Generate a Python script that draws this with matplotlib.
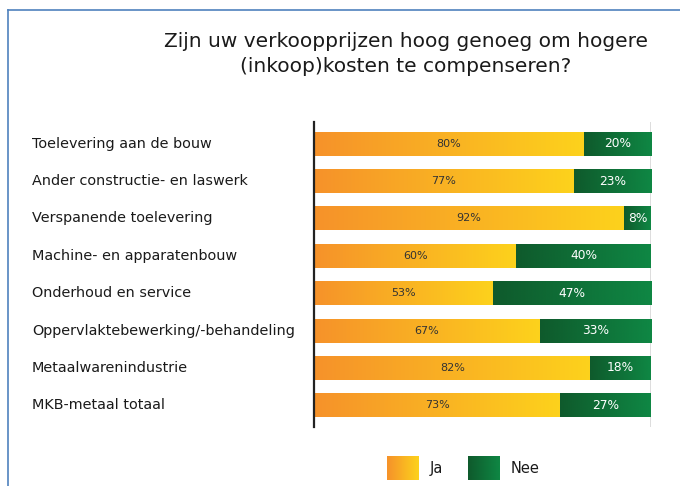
"""
Verkoopprijzen vs. hogere inkoopkosten — gestapelde balken met kleurverloop.
"""
import numpy as np
import matplotlib
matplotlib.use("Agg")
import matplotlib.pyplot as plt
from matplotlib.colors import LinearSegmentedColormap
from matplotlib.lines import Line2D

# ── Data ────────────────────────────────────────────────────────────
SECTORS = [
    "Toelevering aan de bouw",
    "Ander constructie- en laswerk",
    "Verspanende toelevering",
    "Machine- en apparatenbouw",
    "Onderhoud en service",
    "Oppervlaktebewerking/-behandeling",
    "Metaalwarenindustrie",
    "MKB-metaal totaal",
]
JA  = [80, 77, 92, 60, 53, 67, 82, 73]
NEE = [20, 23, 8, 40, 47, 33, 18, 27]

ORANGE = LinearSegmentedColormap.from_list("ja", ["#f6922a", "#fdd21c"])
GREEN  = LinearSegmentedColormap.from_list("nee", ["#0f5a2c", "#0f8744"])
GRAD = np.linspace(0, 1, 256).reshape(1, -1)


def grad_bar(ax, left, width, y, h, cmap):
    ax.imshow(GRAD, cmap=cmap, aspect="auto", interpolation="bicubic",
              extent=[left, left + width, y + h / 2, y - h / 2], zorder=2)


fig = plt.figure(figsize=(6.8, 4.86), dpi=100)

# outer frame (top + left edge)
fig.add_artist(Line2D([0.0118, 1.0], [0.979, 0.979], color="#4f81bd", lw=1.2))
fig.add_artist(Line2D([0.0118, 0.0118], [0.0, 0.979], color="#4f81bd", lw=1.2))

fig.text(0.597, 0.889, "Zijn uw verkoopprijzen hoog genoeg om hogere\n"
         "(inkoop)kosten te compenseren?", ha="center", va="center",
         fontsize=14.5, color="#1a1a1a", linespacing=1.38)

ax = fig.add_axes([0.4618, 0.1214, 0.4956, 0.6276])
h = 0.64
for i, (ja, nee) in enumerate(zip(JA, NEE)):
    grad_bar(ax, 0, ja, i, h, ORANGE)
    grad_bar(ax, ja, nee, i, h, GREEN)
    ax.text(ja / 2, i, f"{ja}%", ha="center", va="center",
            fontsize=8, color="#333333", zorder=3)
    ax.text(ja + nee / 2, i, f"{nee}%", ha="center", va="center",
            fontsize=8.8, color="white", zorder=3)

ax.axvline(100, color="#d9d9d9", lw=2, zorder=1)
ax.set_xlim(0, 100)
ax.set_ylim(7.58, -0.58)
ax.set_xticks([])
ax.set_yticks(range(len(SECTORS)))
ax.set_yticklabels([])
ax.tick_params(axis="y", length=0)
for s in ["top", "right", "bottom"]:
    ax.spines[s].set_visible(False)
ax.spines["left"].set_color("#222222")
ax.spines["left"].set_linewidth(1.6)

for i, name in enumerate(SECTORS):
    ax.annotate(name, xy=(0, i), xycoords=("figure fraction", "data"),
                xytext=(32, 0), textcoords="offset pixels",
                ha="left", va="center", fontsize=10.4, color="#1a1a1a")

# legend swatches
for x0, cmap, label, tx in [(0.569, ORANGE, "Ja", 0.632),
                            (0.688, GREEN, "Nee", 0.751)]:
    sw = fig.add_axes([x0, 0.0123, 0.047, 0.049])
    sw.imshow(GRAD, cmap=cmap, aspect="auto", interpolation="bicubic")
    sw.axis("off")
    fig.text(tx, 0.037, label, ha="left", va="center", fontsize=10.5,
             color="#1a1a1a")

fig.savefig("out.png", dpi=100)
